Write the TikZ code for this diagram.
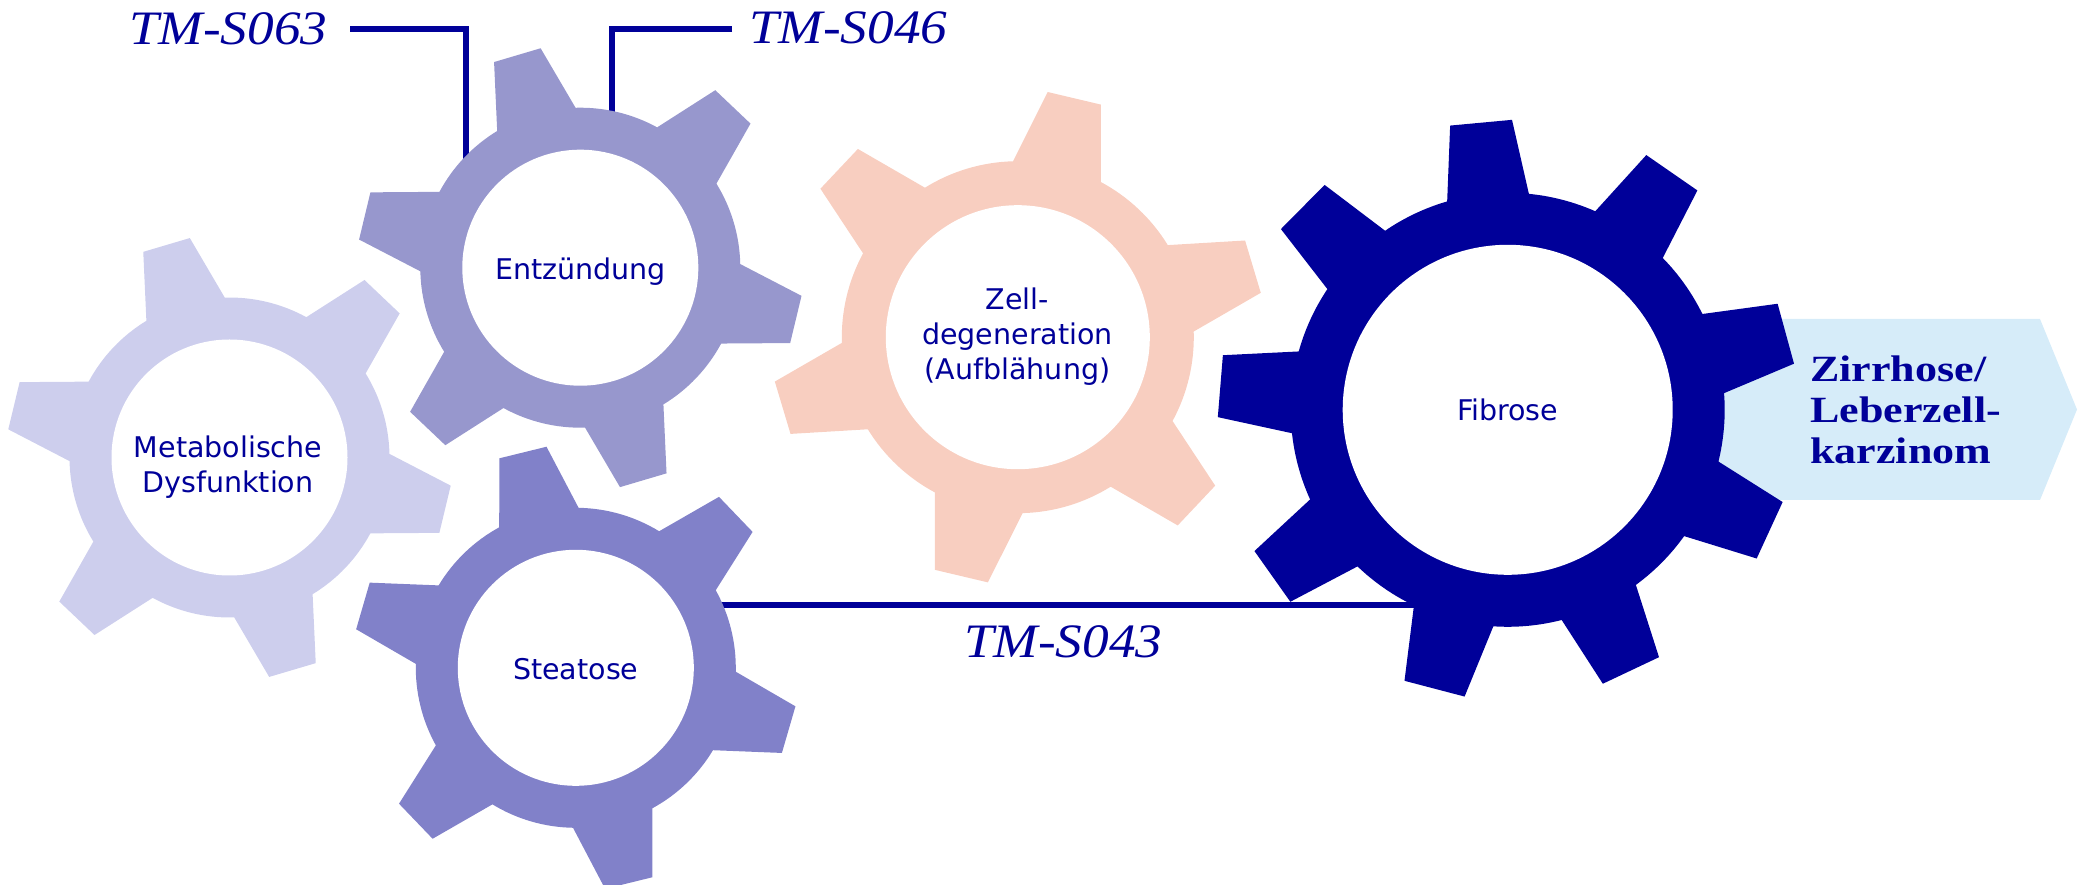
\documentclass[tikz,border=0pt]{standalone}
\usepackage{fontspec}
\setmainfont{DejaVu Sans}
\newfontfamily\tmfont[FakeStretch=1.11]{Liberation Serif}
\newfontfamily\endfont[FakeStretch=1.19]{Liberation Serif}
\definecolor{navy}{RGB}{0,0,153}
\definecolor{gearA}{RGB}{205,206,237}
\definecolor{gearB}{RGB}{151,151,205}
\definecolor{gearC}{RGB}{129,129,201}
\definecolor{gearD}{RGB}{248,206,192}
\definecolor{boxblue}{RGB}{214,236,249}
\tikzset{
  conn/.style={draw=navy, line width=6pt},
  gtext/.style={text=navy, font=\fontsize{28.5}{35}\selectfont, align=center, inner sep=0pt},
  tmlabel/.style={text=navy, font=\tmfont\itshape\fontsize{48}{48}\selectfont, inner sep=0pt},
  endlabel/.style={text=navy, font=\endfont\bfseries\fontsize{37}{41}\selectfont, align=left, inner sep=0pt},
  hole/.style={fill=white},
}
% #1 centre, #2 colour, #3 teeth, #4 offset angle, #5 body radius, #6 tip radius, #7 base half-angle, #8 tip half-angle
\newcommand{\mygear}[8]{%
  \begin{scope}[shift={(#1)}]
    \pgfmathsetmacro{\gstep}{360/#3}
    \fill[#2] ({#4-#7}:#5pt)
      \foreach \k in {1,...,#3}{
        -- ({#4+(\k-1)*\gstep-#8}:#6pt)
        -- ({#4+(\k-1)*\gstep+#8}:#6pt)
        -- ({#4+(\k-1)*\gstep+#7}:#5pt)
        arc[start angle={#4+(\k-1)*\gstep+#7}, end angle={#4+\k*\gstep-#7}, radius=#5pt]
      } -- cycle;
  \end{scope}}
\begin{document}
\begin{tikzpicture}[x=1pt,y=1pt]
\useasboundingbox (0,0) rectangle (2082,884);

% gear centres
\coordinate (gMeta) at (229.5,426.5);
\coordinate (gEntz) at (580.3,616.3);
\coordinate (gStea) at (575.8,216.2);
\coordinate (gZell) at (1017.8,546.8);
\coordinate (gFibr) at (1507.7,474.2);

% outcome arrow box
\fill[boxblue] (1700,565) coordinate (bx1) -- (2040,565) coordinate (bx2) -- (2077,474.5) coordinate (bx3) -- (2040,384) coordinate (bx4) -- (1700,384) coordinate (bx5) -- cycle;

% connector lines
\coordinate (c063s) at (350,855);
\coordinate (c063e) at (465.5,724);
\coordinate (c046s) at (732,855);
\coordinate (c046e) at (611.7,770);
\coordinate (c043s) at (712,279);
\coordinate (c043e) at (1420,279);
\draw[conn] (c063s) -| (c063e);
\draw[conn] (c046s) -| (c046e);
\draw[conn] (c043s) -- (c043e);

% gears
\mygear{gMeta}{gearA}{6}{46.5}{160}{223}{14.8}{6.25}
\mygear{gEntz}{gearB}{6}{46.5}{160}{223}{14.8}{6.25}
\mygear{gStea}{gearC}{6}{43.8}{160}{223}{14.8}{6.25}
\mygear{gZell}{gearD}{6}{16.7}{176}{247}{14.85}{6.35}
\mygear{gFibr}{navy}{9}{15.3}{217}{290}{10.9}{6.15}

% holes
\fill[hole] (gMeta) circle[radius=118pt];
\fill[hole] (gEntz) circle[radius=118pt];
\fill[hole] (gStea) circle[radius=118pt];
\fill[hole] (gZell) circle[radius=132pt];
\fill[hole] (gFibr) circle[radius=165pt];

% gear texts
\node[gtext] (tMeta) at (228,416.4) {Metabolische\\Dysfunktion};
\node[gtext, anchor=base] (tEntz) at (580.5,604.7) {Entzündung};
\node[gtext, anchor=base] (tStea) at (575.8,205) {Steatose};
\node[gtext] (tZell) at (1017.5,547.2) {Zell-\\degeneration\\(Aufblähung)};
\node[gtext, anchor=base] (tFibr) at (1507.7,463.1) {Fibrose};

% outcome text
\node[endlabel, anchor=west] (tEnd) at (1810,474) {Zirrhose/\\Leberzell-\\karzinom};

% marker labels
\node[tmlabel, anchor=base west] (l063) at (129,839) {TM-S063};
\node[tmlabel, anchor=base west] (l046) at (749,840) {TM-S046};
\node[tmlabel, anchor=base west] (l043) at (964,226) {TM-S043};
\end{tikzpicture}
\end{document}
